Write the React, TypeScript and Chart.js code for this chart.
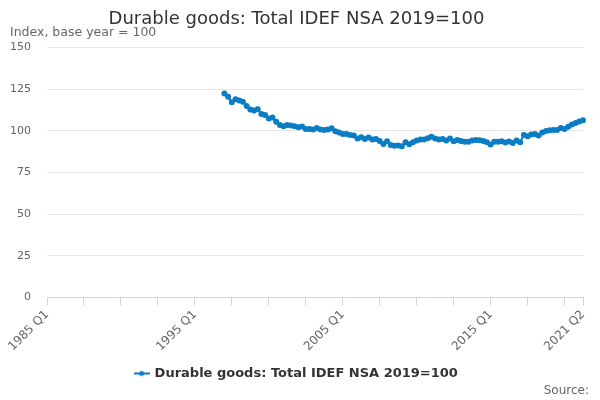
import { useEffect, useRef } from 'react';
import Chart from 'chart.js/auto';

const TITLE = 'Durable goods: Total IDEF NSA 2019=100';
const SUBTITLE = 'Index, base year = 100';
const SERIES_NAME = 'Durable goods: Total IDEF NSA 2019=100';

const FIRST_YEAR = 1985;
const LAST_YEAR = 2021;
const LAST_QUARTER = 2;

// quarters 1985 Q1 .. 2021 Q2
const quarters: string[] = [];
for (let y = FIRST_YEAR; y <= LAST_YEAR; y++) {
  for (let q = 1; q <= 4; q++) {
    if (y === LAST_YEAR && q > LAST_QUARTER) break;
    quarters.push(`${y} Q${q}`);
  }
}

// series begins at 1997 Q1
const startLabel = '1997 Q1';
const values: number[] = [
  122.5, 120.5, 117.2, 119.0, // 1997
  118.3, 117.5, 115.0, 112.8, // 1998
  112.3, 113.0, 110.2, 109.6, // 1999
  107.5, 108.0, 105.5, 103.5, // 2000
  102.8, 103.6, 103.2, 102.8, // 2001
  102.2, 102.6, 101.2, 101.2, // 2002
  100.8, 101.8, 100.8, 100.6, // 2003
  100.8, 101.6, 99.8, 99.0, // 2004
  98.2, 98.2, 97.6, 97.2, // 2005
  95.5, 96.2, 95.2, 96.0, // 2006
  94.8, 95.2, 94.0, 92.2, // 2007
  93.8, 91.5, 91.0, 91.2, // 2008
  90.8, 93.2, 92.0, 93.2, // 2009
  94.2, 94.8, 94.8, 95.6, // 2010
  96.5, 95.5, 94.8, 95.2, // 2011
  94.2, 95.5, 93.8, 94.6, // 2012
  94.0, 93.5, 93.5, 94.2, // 2013
  94.5, 94.4, 94.0, 93.2, // 2014
  91.8, 93.5, 93.5, 93.8, // 2015
  93.0, 93.6, 92.8, 94.2, // 2016
  93.2, 97.5, 96.8, 97.8, // 2017
  98.2, 97.3, 99.0, 100.0, // 2018
  100.4, 100.6, 100.6, 101.8, // 2019
  101.2, 102.5, 103.8, 104.8, // 2020
  105.6, 106.4, // 2021
];

const labelsShown = ['1985 Q1', '1995 Q1', '2005 Q1', '2015 Q1', '2021 Q2'];
const TICK_EVERY = 10;

const Y_MIN = 0;
const Y_MAX = 150;
const Y_STEP = 25;

const LINE_COLOR = '#0b7dc4';
const FONT = '"DejaVu Sans", sans-serif';

function legendMarker(): HTMLCanvasElement {
  const c = document.createElement('canvas');
  c.width = 16;
  c.height = 8;
  const g = c.getContext('2d');
  if (g) {
    g.strokeStyle = LINE_COLOR;
    g.lineWidth = 2;
    g.beginPath();
    g.moveTo(0, 4);
    g.lineTo(16, 4);
    g.stroke();
    g.fillStyle = LINE_COLOR;
    g.beginPath();
    g.arc(8, 4, 2.5, 0, Math.PI * 2);
    g.fill();
  }
  return c;
}

export default function App() {
  const chartRef = useRef<HTMLCanvasElement>(null);
  const chartInstance = useRef<Chart | null>(null);

  useEffect(() => {
    document.body.style.margin = '0';
    if (!chartRef.current) return;
    if (chartInstance.current) chartInstance.current.destroy();
    const ctx = chartRef.current.getContext('2d');
    if (!ctx) return;

    const offset = quarters.indexOf(startLabel);
    const data: (number | null)[] = quarters.map((_, i) =>
      i >= offset && i - offset < values.length ? values[i - offset] : null
    );
    const lastIndex = quarters.length - 1;
    const marker = legendMarker();

    chartInstance.current = new Chart(ctx, {
      type: 'line',
      data: {
        labels: quarters,
        datasets: [
          {
            label: SERIES_NAME,
            data,
            borderColor: LINE_COLOR,
            backgroundColor: LINE_COLOR,
            borderWidth: 2,
            pointRadius: 2,
            pointHoverRadius: 3,
            tension: 0,
            spanGaps: false,
          },
        ],
      },
      options: {
        animation: false,
        responsive: true,
        maintainAspectRatio: false,
        layout: { padding: { left: 10, right: 17, bottom: 10 } },
        plugins: {
          title: {
            display: true,
            text: TITLE,
            color: '#333333',
            font: { family: FONT, size: 18, weight: 'normal' },
            padding: { top: 9, bottom: 0 },
          },
          subtitle: {
            display: true,
            text: SUBTITLE,
            align: 'start',
            color: '#666666',
            font: { family: FONT, size: 12.5 },
            padding: { top: -5, bottom: 7 },
          },
          legend: {
            position: 'bottom',
            labels: {
              color: '#333333',
              font: { family: FONT, size: 13, weight: 'bold' },
              usePointStyle: true,
              generateLabels: (chart) => {
                const ds = chart.data.datasets[0];
                return [
                  {
                    text: String(ds.label),
                    pointStyle: marker,
                    fillStyle: LINE_COLOR,
                    strokeStyle: LINE_COLOR,
                    lineWidth: 0,
                    hidden: false,
                    datasetIndex: 0,
                    fontColor: '#333333',
                  },
                ];
              },
              padding: 11,
            },
          },
          tooltip: { enabled: true },
        },
        scales: {
          x: {
            type: 'category',
            offset: false,
            border: { display: true, color: '#ccd6eb' },
            grid: {
              drawOnChartArea: false,
              drawTicks: true,
              tickLength: 8,
              color: (c) =>
                c.index % TICK_EVERY === 0 || c.index === lastIndex ? '#ccd6eb' : 'rgba(0,0,0,0)',
            },
            ticks: {
              autoSkip: false,
              maxRotation: 45,
              minRotation: 45,
              color: '#666666',
              font: { family: FONT, size: 12 },
              padding: 2,
              callback: (_v, i) => (labelsShown.includes(quarters[i]) ? quarters[i] : ''),
            },
            afterFit: (scale) => {
              scale.paddingLeft = 0;
            },
          },
          y: {
            min: Y_MIN,
            max: Y_MAX,
            border: { display: false },
            grid: { color: '#e6e6e6', drawTicks: false },
            ticks: {
              stepSize: Y_STEP,
              color: '#666666',
              font: { family: FONT, size: 11 },
              padding: 16,
            },
            afterFit: (scale) => {
              scale.width = 37;
            },
          },
        },
      },
    });

    return () => {
      if (chartInstance.current) {
        chartInstance.current.destroy();
        chartInstance.current = null;
      }
    };
  }, []);

  return (
    <div style={{ position: 'relative', width: 600, height: 400 }}>
      <canvas ref={chartRef}></canvas>
      <span
        style={{
          position: 'absolute',
          right: 11,
          bottom: 3,
          fontFamily: FONT,
          fontSize: 12,
          color: '#666666',
        }}
      >
        Source:
      </span>
    </div>
  );
}
